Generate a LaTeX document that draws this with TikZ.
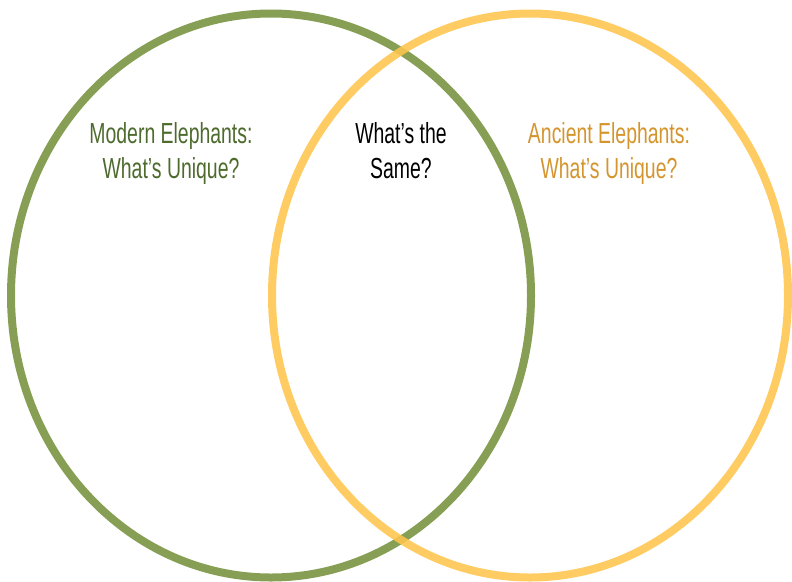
\documentclass[tikz,border=0pt]{standalone}
\usepackage{fontspec}
\setmainfont[FakeStretch=0.67]{Liberation Sans}
\definecolor{ringgreen}{HTML}{76923C}
\definecolor{ringyellow}{HTML}{FFC54D}
\definecolor{txtgreen}{HTML}{4E6B2E}
\definecolor{txtyellow}{HTML}{D4952F}
\begin{document}
\begin{tikzpicture}[x=1pt,y=-1pt,
  ring/.style={line width=8pt,draw opacity=0.88},
  lbl/.style={align=center,anchor=base,inner sep=0pt,font=\fontsize{29}{35}\selectfont}]
\useasboundingbox (0,0) rectangle (792,581);
\draw[ring,draw=ringgreen] (271,295.5) ellipse [x radius=260,y radius=282];
\draw[ring,draw=ringyellow] (530,295.5) ellipse [x radius=258,y radius=282];
\node[lbl,text=txtgreen] (modern) at (171,178) {Modern Elephants:\\What’s Unique?};
\node[lbl,text=black] (same) at (401,178) {What’s the\\Same?};
\node[lbl,text=txtyellow] (ancient) at (609,178) {Ancient Elephants:\\What’s Unique?};
\end{tikzpicture}
\end{document}
